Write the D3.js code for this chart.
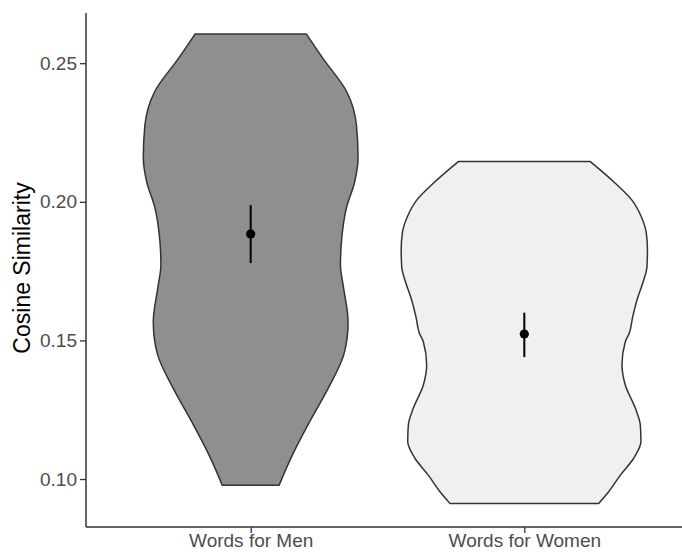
<!DOCTYPE html>
<html>
<head>
<meta charset="utf-8">
<script src="https://cdn.jsdelivr.net/npm/d3@7"></script>
<style>
  html, body { margin: 0; padding: 0; background: #fff; }
  svg { display: block; font-family: "Liberation Sans", Arial, Helvetica, sans-serif; }
</style>
</head>
<body>
<svg id="chart" width="682" height="552"></svg>
<script>
// Groups
const categories = ["Words for Men", "Words for Women"];
const fills = ["#8f8f8f", "#f0f0f0"];

// Kernel density outlines: value grid and relative density (1 = widest violin)
const menValues   = [0.2605, 0.2518, 0.2397, 0.2277, 0.2157, 0.2073, 0.1977, 0.1856, 0.1772, 0.1688, 0.1567, 0.1508, 0.1447, 0.1327, 0.1207, 0.1087, 0.0978];
const menDensity  = [0.452, 0.585, 0.780, 0.859, 0.872, 0.845, 0.777, 0.737, 0.729, 0.755, 0.791, 0.783, 0.755, 0.629, 0.479, 0.339, 0.231];
const womenValues  = [0.2145, 0.2067, 0.2006, 0.1946, 0.1886, 0.1826, 0.1766, 0.1706, 0.1646, 0.1585, 0.1527, 0.1495, 0.1411, 0.1339, 0.1255, 0.1195, 0.1135, 0.1075, 0.1014, 0.0954, 0.0912];
const womenDensity = [0.536, 0.739, 0.874, 0.950, 0.991, 1.000, 0.996, 0.961, 0.915, 0.880, 0.853, 0.820, 0.793, 0.820, 0.902, 0.942, 0.947, 0.888, 0.780, 0.685, 0.604];

// Mean and interval per group
const means = [0.1884, 0.1523];
const lower = [0.1779, 0.1440];
const upper = [0.1988, 0.1600];

// Axis ticks
const yTicks = [0.10, 0.15, 0.20, 0.25];
const yTitle = "Cosine Similarity";

const svg = d3.select("#chart");
const m = { left: 86, top: 13, bottom: 527, right: 682 };

const x = d3.scalePoint().domain(categories).range([86.5, 688.5]).padding(0.6);
const y = d3.scaleLinear().domain([0.0827, 0.2681]).range([m.bottom, m.top]);
// half-width of a violin: densest point spans 0.9 of the category step
const w = d3.scaleLinear().domain([0, 1]).range([0, x.step() * 0.45]);

const groups = [
  { cat: categories[0], vals: menValues, dens: menDensity, fill: fills[0] },
  { cat: categories[1], vals: womenValues, dens: womenDensity, fill: fills[1] }
];

// Violins
groups.forEach(g => {
  const cx = x(g.cat);
  const pts = g.vals.map((v, i) => ({ v, d: g.dens[i] }));
  const area = d3.area()
    .y(p => y(p.v))
    .x0(p => cx - w(p.d))
    .x1(p => cx + w(p.d))
    .curve(d3.curveMonotoneY);
  svg.append("path")
    .attr("d", area(pts))
    .attr("fill", g.fill)
    .attr("stroke", "#333333")
    .attr("stroke-width", 1.5)
    .attr("stroke-linejoin", "round");
});

// Intervals and means
categories.forEach((c, i) => {
  svg.append("line")
    .attr("x1", x(c)).attr("x2", x(c))
    .attr("y1", y(lower[i])).attr("y2", y(upper[i]))
    .attr("stroke", "#000").attr("stroke-width", 2);
  svg.append("circle")
    .attr("cx", x(c)).attr("cy", y(means[i]))
    .attr("r", 4.6).attr("fill", "#000");
});

// Y axis
const yAxis = d3.axisLeft(y).tickValues(yTicks).tickFormat(d3.format(".2f")).tickSize(6).tickPadding(3);
const gy = svg.append("g").attr("transform", `translate(${m.left},0)`).call(yAxis);
gy.select(".domain").remove();
gy.selectAll(".tick line").attr("stroke", "#333").attr("stroke-width", 1.3);
gy.selectAll(".tick text").attr("fill", "#4d4d4d").attr("font-size", 19).attr("font-family", null);
svg.append("line").attr("x1", m.left).attr("x2", m.left).attr("y1", m.top).attr("y2", m.bottom)
  .attr("stroke", "#333").attr("stroke-width", 1.5);

// X axis
const xAxis = d3.axisBottom(x).tickSize(6).tickPadding(1);
const gx = svg.append("g").attr("transform", `translate(0,${m.bottom})`).call(xAxis);
gx.select(".domain").remove();
gx.selectAll(".tick line").attr("stroke", "#333").attr("stroke-width", 1.3);
gx.selectAll(".tick text").attr("fill", "#4d4d4d").attr("font-size", 19).attr("font-family", null);
svg.append("line").attr("x1", m.left).attr("x2", m.right).attr("y1", m.bottom).attr("y2", m.bottom)
  .attr("stroke", "#333").attr("stroke-width", 1.5);

// Y title
svg.append("text")
  .attr("transform", "translate(30,268) rotate(-90)")
  .attr("text-anchor", "middle")
  .attr("font-size", 23)
  .attr("fill", "#000")
  .text(yTitle);
</script>
</body>
</html>
